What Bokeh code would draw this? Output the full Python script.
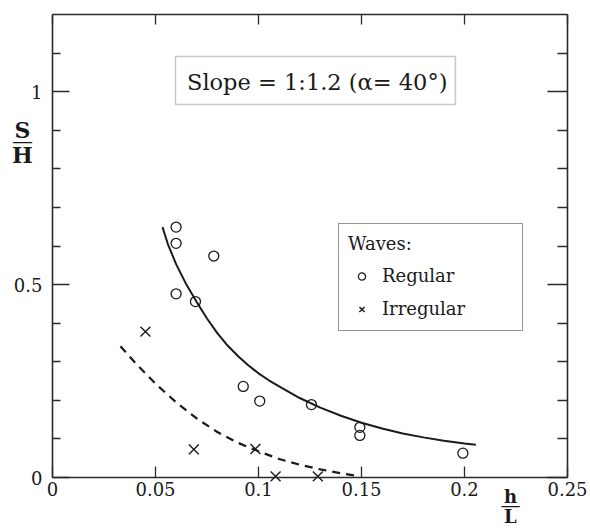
from bokeh.plotting import figure
from bokeh.models import (Range1d, LinearAxis, FixedTicker, Label, BoxAnnotation,
                          Legend, LegendItem)
from bokeh.embed import file_html
from bokeh.resources import INLINE

# ---- data ----
reg_x = [0.0600, 0.0600, 0.0783, 0.0600, 0.0694, 0.0926, 0.1006, 0.1257, 0.1492, 0.1492, 0.1992]
reg_y = [0.649, 0.607, 0.574, 0.476, 0.456, 0.236, 0.198, 0.189, 0.130, 0.109, 0.063]

irr_x = [0.0451, 0.0686, 0.0985, 0.1083, 0.1288]
irr_y = [0.378, 0.073, 0.074, 0.003, 0.003]

fit_reg_x = [0.0534, 0.056, 0.060, 0.065, 0.070, 0.075, 0.080, 0.085, 0.090, 0.095, 0.100,
             0.105, 0.110, 0.120, 0.130, 0.140, 0.150, 0.160, 0.170, 0.180, 0.190, 0.200, 0.2055]
fit_reg_y = [0.649, 0.605, 0.553, 0.500, 0.455, 0.412, 0.374, 0.342, 0.315, 0.291, 0.270,
             0.252, 0.236, 0.206, 0.181, 0.160, 0.142, 0.127, 0.114, 0.104, 0.095, 0.088, 0.085]

fit_irr_x = [0.033, 0.040, 0.050, 0.060, 0.070, 0.080, 0.090, 0.100, 0.110, 0.120, 0.130, 0.140, 0.149]
fit_irr_y = [0.340, 0.298, 0.243, 0.195, 0.153, 0.118, 0.090, 0.068, 0.048, 0.033, 0.021, 0.011, 0.003]

x_ticks = [0, 0.05, 0.1, 0.15, 0.2, 0.25]
x_tick_labels = ["0", "0.05", "0.1", "0.15", "0.2", "0.25"]
y_ticks = [0, 0.5, 1]
y_tick_labels = ["0", "0.5", "1"]
y_minor = [0.1, 0.2, 0.3, 0.4, 0.6, 0.7, 0.8, 0.9, 1.1]
x_lim = (0, 0.25)
y_lim = (0, 1.2)

title_text = "Slope = 1:1.2 (\u03b1= 40\u00b0)"
legend_title = "Waves:"
series_names = ["Regular", "Irregular"]

INK = "#1a1a1a"
AX = "#2a2a2a"
FONT = "DejaVu Serif"

# The frame fills the canvas; the axes are pinned at the data limits so that the
# fraction-style axis titles (which sit outside the box) stay visible.
W, H = 590, 531
px_x = 2060.0            # pixels per x unit
px_y = 463.0 / 1.2       # pixels per y unit
left_px, bottom_px = 52.0, 477.0
x_range = Range1d(-left_px / px_x, (W - left_px) / px_x)
y_range = Range1d(-(H - bottom_px) / px_y, bottom_px / px_y)

p = figure(width=W, height=H, x_range=x_range, y_range=y_range,
           output_backend="svg", toolbar_location=None,
           min_border=0, x_axis_type=None, y_axis_type=None)
p.xgrid.visible = False
p.ygrid.visible = False
p.outline_line_color = None
p.background_fill_color = "white"
p.border_fill_color = "white"

xt = FixedTicker(ticks=x_ticks)
yt = FixedTicker(ticks=y_ticks, minor_ticks=y_minor)


def make_axis(ticker, fixed, bounds, major_in, minor_in, overrides, standoff):
    ax = LinearAxis(ticker=ticker, fixed_location=fixed, bounds=bounds)
    ax.axis_line_color = AX
    ax.axis_line_width = 1.6
    ax.major_tick_line_color = AX
    ax.minor_tick_line_color = AX
    ax.major_tick_line_width = 1.3
    ax.minor_tick_line_width = 1.3
    ax.major_tick_in = major_in
    ax.major_tick_out = 0
    ax.minor_tick_in = minor_in
    ax.minor_tick_out = 0
    ax.major_label_overrides = overrides
    ax.major_label_standoff = standoff
    ax.major_label_text_font = FONT
    ax.major_label_text_font_size = "18px"
    ax.major_label_text_color = INK
    return ax


x_over = {t: l for t, l in zip(x_ticks, x_tick_labels)}
y_over = {t: l for t, l in zip(y_ticks, y_tick_labels)}
x_blank = {t: "" for t in x_ticks}
y_blank = {t: "" for t in y_ticks}

p.add_layout(make_axis(xt, y_lim[0], x_lim, 11, 0, x_over, 4), "below")
p.add_layout(make_axis(yt, x_lim[0], y_lim, 17, 8, y_over, 10), "left")
p.add_layout(make_axis(yt, x_lim[1], y_lim, 20, 10, y_blank, 0), "right")
p.add_layout(make_axis(xt, y_lim[1], x_lim, 10, 0, x_blank, 0), "above")

# curves
p.line(fit_reg_x, fit_reg_y, line_width=2, color=INK)
p.line(fit_irr_x, fit_irr_y, line_width=2.2, color=INK, line_dash="8 6")

reg = p.scatter(reg_x, reg_y, marker="circle", size=10, line_color=INK,
                fill_color=None, line_width=1.3)
irr = p.scatter(irr_x, irr_y, marker="x", size=14, line_color=INK, line_width=1.4)

legend = Legend(items=[LegendItem(label=series_names[0], renderers=[reg]),
                       LegendItem(label=series_names[1], renderers=[irr])],
                title=legend_title, location=(338, 200), margin=0,
                padding=9, spacing=8, label_height=25, glyph_height=18, glyph_width=27,
                label_standoff=7, label_width=131, title_standoff=9,
                border_line_color=AX, border_line_width=1.5,
                background_fill_alpha=1.0)
legend.title_text_font = FONT
legend.title_text_font_size = "18px"
legend.title_text_font_style = "normal"
legend.title_text_color = INK
legend.label_text_font = FONT
legend.label_text_font_size = "18px"
legend.label_text_color = INK
p.add_layout(legend, "center")

# title box
p.add_layout(BoxAnnotation(left=0.0597, right=0.1956, bottom=0.9668, top=1.0912,
                           fill_alpha=0, line_color="#444444", line_width=1.5))
p.add_layout(Label(x=0.1285, y=1.0246, text=title_text, text_align="center",
                   text_baseline="middle", text_font=FONT, text_font_size="22.5px",
                   text_color=INK))


# axis titles as fractions
def frac(xc, y_num, y_bar, y_den, num, den, size, bar_size):
    for yy, t in ((y_num, num), (y_den, den)):
        p.add_layout(Label(x=xc, y=yy, text=t, text_align="center",
                           text_baseline="alphabetic", text_font=FONT,
                           text_font_size=size, text_font_style="bold",
                           text_color=INK))
    p.add_layout(Label(x=xc, y=y_bar, text="\u2014", text_align="center",
                       text_baseline="alphabetic", text_font=FONT,
                       text_font_size=bar_size, text_color=INK))


frac(-0.01456, 0.9007, 0.8730, 0.8359, "S", "H", "22px", "21px")
frac(0.2223, -0.0492, -0.0703, -0.1011, "h", "L", "18px", "20px")

open("out.html", "w").write(file_html(p, INLINE))
